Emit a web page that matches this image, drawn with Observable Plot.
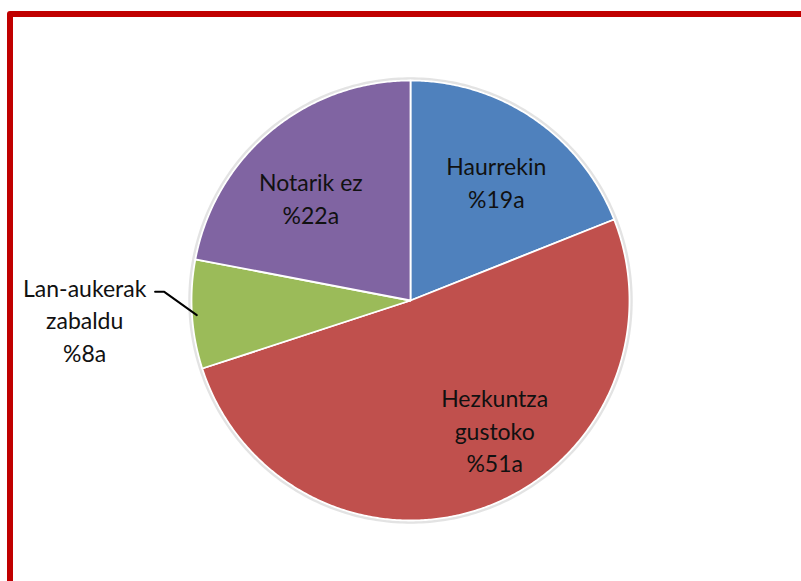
<!DOCTYPE html>
<html>
<head>
<meta charset="utf-8">
<script src="https://cdn.jsdelivr.net/npm/d3@7"></script>
<script src="https://cdn.jsdelivr.net/npm/@observablehq/plot@0.6"></script>
<style>
  html, body { margin: 0; padding: 0; background: #fff; overflow: hidden; }
  #wrap { position: relative; width: 801px; height: 581px; overflow: hidden; }
  #frame { position: absolute; left: 7px; top: 11px; width: 900px; height: 700px;
           border: 6px solid #C00000; border-radius: 3px; box-sizing: border-box; pointer-events: none; }
  svg { position: absolute; left: 0; top: 0; }
</style>
</head>
<body>
<div id="wrap"><div id="frame"></div></div>
<script>
// ---- data ----
const categories = ["Haurrekin", "Hezkuntza gustoko", "Lan-aukerak zabaldu", "Notarik ez"];
const labelLines = ["Haurrekin", "Hezkuntza\ngustoko", "Lan-aukerak\nzabaldu", "Notarik ez"];
const values = [19, 51, 8, 22];
const valueLabels = ["%19a", "%51a", "%8a", "%22a"];
const colors = ["#4F81BD", "#C0504D", "#9BBB59", "#8064A2"];

// ---- layout (label placement relative to slice mid-angle, in degrees / radius units) ----
const labelAngleShift = [1.6, -13.5, 0.4, -4.4];
const labelRadius = [0.67, 0.70, 1.49, 0.655];
const leaderSlices = [2];

const rad = Math.PI / 180;
const polar = (a, r) => [r * Math.sin(a), r * Math.cos(a)];
const arcs = d3.pie().sort(null).value(d => d)(values);

// slice outlines
const slicePts = [];
arcs.forEach((a, i) => {
  slicePts.push({k: categories[i], x: 0, y: 0});
  const n = Math.max(2, Math.ceil((a.endAngle - a.startAngle) / (0.5 * rad)));
  for (let j = 0; j <= n; j++) {
    const t = a.startAngle + (a.endAngle - a.startAngle) * j / n;
    const [x, y] = polar(t, 1);
    slicePts.push({k: categories[i], x, y});
  }
  slicePts.push({k: categories[i], x: 0, y: 0});
});

// outer shadow ring
const ring = d3.range(0, 361, 1).map(d => {
  const [x, y] = polar(d * rad, 1.008);
  return {x, y};
});

// labels
const labels = arcs.map((a, i) => {
  const mid = (a.startAngle + a.endAngle) / 2 + labelAngleShift[i] * rad;
  const [x, y] = polar(mid, labelRadius[i]);
  return {x, y, text: labelLines[i] + "\n" + valueLabels[i]};
});

// leader lines
const leaders = [];
leaderSlices.forEach(i => {
  const a = arcs[i];
  const mid = (a.startAngle + a.endAngle) / 2;
  const p1 = polar(mid - 0.3 * rad, 0.978);
  const p2 = polar(mid + 5.6 * rad, 1.125);
  const p3 = [p2[0] - 0.042, p2[1]];
  [p1, p2, p3].forEach(p => leaders.push({k: i, x: p[0], y: p[1]}));
});

const chart = Plot.plot({
  width: 801,
  height: 581,
  margin: 0,
  x: {domain: [-1, 1], range: [191, 629], axis: null},
  y: {domain: [-1, 1], range: [520, 80], axis: null},
  color: {domain: categories, range: colors},
  style: {background: "transparent", overflow: "visible"},
  marks: [
    Plot.line(ring, {x: "x", y: "y", stroke: "#b0b0b0", strokeWidth: 3, strokeOpacity: 0.35}),
    Plot.line(slicePts, {x: "x", y: "y", z: "k", fill: "k", stroke: "white", strokeWidth: 1.8, strokeLinejoin: "round"}),
    Plot.line(leaders, {x: "x", y: "y", z: "k", stroke: "black", strokeWidth: 2}),
    Plot.text(labels, {x: "x", y: "y", text: "text", fontSize: 23, lineHeight: 1.42,
      fontFamily: "Lato, 'Open Sans', sans-serif", fill: "#111", textAnchor: "middle", lineAnchor: "middle"})
  ]
});
document.getElementById("wrap").insertBefore(chart, document.getElementById("frame"));
</script>
</body>
</html>
